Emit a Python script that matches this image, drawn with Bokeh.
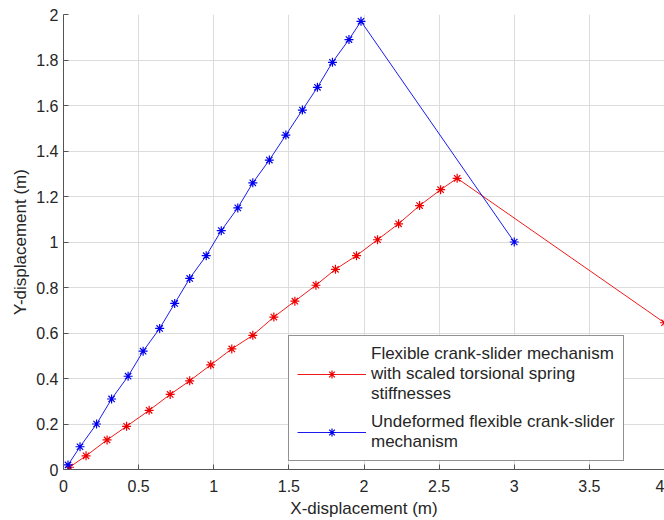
from bokeh.plotting import figure
from bokeh.models import Range1d, Legend, LegendItem, FixedTicker
from bokeh.embed import file_html
from bokeh.resources import INLINE

# Undeformed flexible crank-slider mechanism (blue)
blue_x = [0.03, 0.11, 0.22, 0.32, 0.43, 0.53, 0.64, 0.74, 0.84, 0.95, 1.05,
          1.16, 1.26, 1.37, 1.48, 1.59, 1.69, 1.79, 1.90, 1.98, 3.00]
blue_y = [0.02, 0.10, 0.20, 0.31, 0.41, 0.52, 0.62, 0.73, 0.84, 0.94, 1.05,
          1.15, 1.26, 1.36, 1.47, 1.58, 1.68, 1.79, 1.89, 1.97, 1.00]

# Flexible crank-slider mechanism with scaled torsional spring stiffnesses (red)
red_x = [0.04, 0.15, 0.29, 0.42, 0.57, 0.71, 0.84, 0.98, 1.12, 1.26, 1.40,
         1.54, 1.68, 1.81, 1.95, 2.09, 2.23, 2.37, 2.51, 2.62, 4.00]
red_y = [0.01, 0.06, 0.13, 0.19, 0.26, 0.33, 0.39, 0.46, 0.53, 0.59, 0.67,
         0.74, 0.81, 0.88, 0.94, 1.01, 1.08, 1.16, 1.23, 1.28, 0.645]

x_ticks = [0, 0.5, 1, 1.5, 2, 2.5, 3, 3.5, 4]
y_ticks = [0, 0.2, 0.4, 0.6, 0.8, 1, 1.2, 1.4, 1.6, 1.8, 2]

red_label = "Flexible crank-slider mechanism\nwith scaled torsional spring\nstiffnesses"
blue_label = "Undeformed flexible crank-slider\nmechanism"

FONT = "Liberation Sans"
TXT = "#262626"

p = figure(width=664, height=520, output_backend="svg", toolbar_location=None,
           x_range=Range1d(0, 4), y_range=Range1d(0, 2),
           min_border_left=63, min_border_right=0, min_border_top=14,
           min_border_bottom=50)
p.outline_line_color = None
p.background_fill_color = "white"
p.border_fill_color = "white"

red_line = p.line(red_x, red_y, line_color="#ee0000", line_width=0.9)
red_pts = p.scatter(red_x, red_y, marker="asterisk", size=9, line_color="#ee0000", line_width=1.2)
blue_line = p.line(blue_x, blue_y, line_color="#0000ee", line_width=0.9)
blue_pts = p.scatter(blue_x, blue_y, marker="asterisk", size=9, line_color="#0000ee", line_width=1.2)

for ax in (p.xaxis[0], p.yaxis[0]):
    ax.axis_line_color = "#555555"
    ax.axis_line_width = 1
    ax.major_tick_in = 5
    ax.major_tick_out = 0
    ax.major_tick_line_color = "#555555"
    ax.minor_tick_line_color = None
    ax.major_label_text_font = FONT
    ax.major_label_text_font_size = "16px"
    ax.major_label_text_color = TXT
    ax.axis_label_text_font = FONT
    ax.axis_label_text_font_size = "17px"
    ax.axis_label_text_font_style = "normal"
    ax.axis_label_text_color = TXT

p.xaxis[0].ticker = FixedTicker(ticks=x_ticks)
p.yaxis[0].ticker = FixedTicker(ticks=y_ticks)
p.xaxis[0].axis_label = "X-displacement (m)"
p.yaxis[0].axis_label = "Y-displacement (m)"
p.xaxis[0].major_label_standoff = 10
p.xaxis[0].axis_label_standoff = 4
p.yaxis[0].major_label_standoff = 5
p.yaxis[0].axis_label_standoff = 3

p.xgrid[0].grid_line_color = "#dcdcdc"
p.ygrid[0].grid_line_color = "#dcdcdc"
p.xgrid[0].ticker = FixedTicker(ticks=x_ticks)
p.ygrid[0].ticker = FixedTicker(ticks=y_ticks)

legend = Legend(items=[
    LegendItem(label=red_label, renderers=[red_line, red_pts]),
    LegendItem(label=blue_label, renderers=[blue_line, blue_pts]),
], location=(225, 8))
legend.label_text_font = FONT
legend.label_text_font_size = "17px"
legend.label_text_color = TXT
legend.label_text_line_height = 1.25
legend.padding = 8
legend.spacing = 8
legend.glyph_width = 69
legend.label_standoff = 5
legend.border_line_color = "#262626"
legend.border_line_width = 1
legend.background_fill_color = "white"
legend.background_fill_alpha = 1
legend.margin = 0
p.add_layout(legend, "center")

open("out.html", "w").write(file_html(p, INLINE))
